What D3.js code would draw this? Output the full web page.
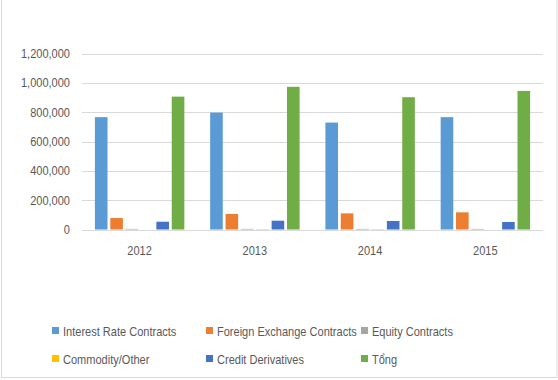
<!DOCTYPE html>
<html>
<head>
<meta charset="utf-8">
<script src="https://cdn.jsdelivr.net/npm/d3@7"></script>
<style>
  body { margin: 0; background: #fff; }
  svg text { font-family: "Liberation Sans", Arial, sans-serif; fill: #595959; font-size: 12px; }
</style>
</head>
<body>
<svg width="558" height="380"></svg>
<script>
var years = ["2012", "2013", "2014", "2015"];
var seriesNames = ["Interest Rate Contracts", "Foreign Exchange Contracts", "Equity Contracts",
                   "Commodity/Other", "Credit Derivatives", "Tổng"];
var interestRate = [766000, 797000, 729000, 766000];
var foreignExchange = [78000, 106000, 110000, 117000];
var equity = [4000, 4000, 4000, 4000];
var commodity = [0, 3000, 3000, 0];
var credit = [53000, 60000, 58000, 51000];
var total = [906000, 973000, 902000, 945000];
var yTicks = [0, 200000, 400000, 600000, 800000, 1000000, 1200000];
var colors = ["#5B9BD5", "#ED7D31", "#A5A5A5", "#FFC000", "#4472C4", "#70AD47"];

var allSeries = [interestRate, foreignExchange, equity, commodity, credit, total];

var svg = d3.select("svg");

// squeeze text a bit so it looks like the narrow office font
function place(x, y) {
  return "translate(" + x + "," + y + ") scale(0.92,1)";
}

// outer border of the chart area
svg.append("rect")
  .attr("x", 1.5).attr("y", -2)
  .attr("width", 555.5).attr("height", 379.5)
  .attr("fill", "none")
  .attr("stroke", "#d9d9d9");

var y = d3.scaleLinear().domain([0, 1200000]).range([229.5, 53.5]);

var x0 = d3.scaleBand().domain(years).range([82, 543])
  .paddingInner(0.2).paddingOuter(0.1);

var x1 = d3.scaleBand().domain(d3.range(seriesNames.length)).range([0, x0.bandwidth()])
  .paddingInner(0.18).paddingOuter(0.09);

// gridlines
svg.append("g").selectAll("line")
  .data(yTicks)
  .enter()
  .append("line")
  .attr("x1", 82).attr("x2", 543)
  .attr("y1", function(d) { return Math.round(y(d)) + 0.5; })
  .attr("y2", function(d) { return Math.round(y(d)) + 0.5; })
  .attr("stroke", "#d9d9d9");

// y axis labels
svg.append("g").selectAll("text")
  .data(yTicks)
  .enter()
  .append("text")
  .attr("transform", function(d) { return place(70, y(d) + 4.5); })
  .attr("text-anchor", "end")
  .text(function(d) { return d3.format(",")(d); });

// bars
var groups = svg.append("g").selectAll("g")
  .data(years)
  .enter()
  .append("g")
  .attr("transform", function(d) { return "translate(" + x0(d) + ",0)"; });

groups.selectAll("rect")
  .data(function(d, i) {
    return allSeries.map(function(s, k) { return { k: k, v: s[i] }; });
  })
  .enter()
  .append("rect")
  .attr("x", function(d) { return x1(d.k); })
  .attr("width", x1.bandwidth())
  .attr("y", function(d) { return y(d.v); })
  .attr("height", function(d) { return y(0) - y(d.v); })
  .attr("fill", function(d) { return colors[d.k]; });

// x labels
svg.append("g").selectAll("text")
  .data(years)
  .enter()
  .append("text")
  .attr("transform", function(d) { return place(x0(d) + x0.bandwidth() / 2, 255); })
  .attr("text-anchor", "middle")
  .text(function(d) { return d; });

// legend
var legendX = [52, 206, 361];
var legendY = [331, 359];
var legend = svg.append("g").selectAll("g")
  .data(seriesNames)
  .enter()
  .append("g")
  .attr("transform", function(d, i) {
    return "translate(" + legendX[i % 3] + "," + legendY[Math.floor(i / 3)] + ")";
  });

legend.append("rect")
  .attr("x", 0).attr("y", -4)
  .attr("width", 7).attr("height", 7)
  .attr("fill", function(d, i) { return colors[i]; });

legend.append("text")
  .attr("transform", place(11, 4.5))
  .text(function(d) { return d; });
</script>
</body>
</html>
